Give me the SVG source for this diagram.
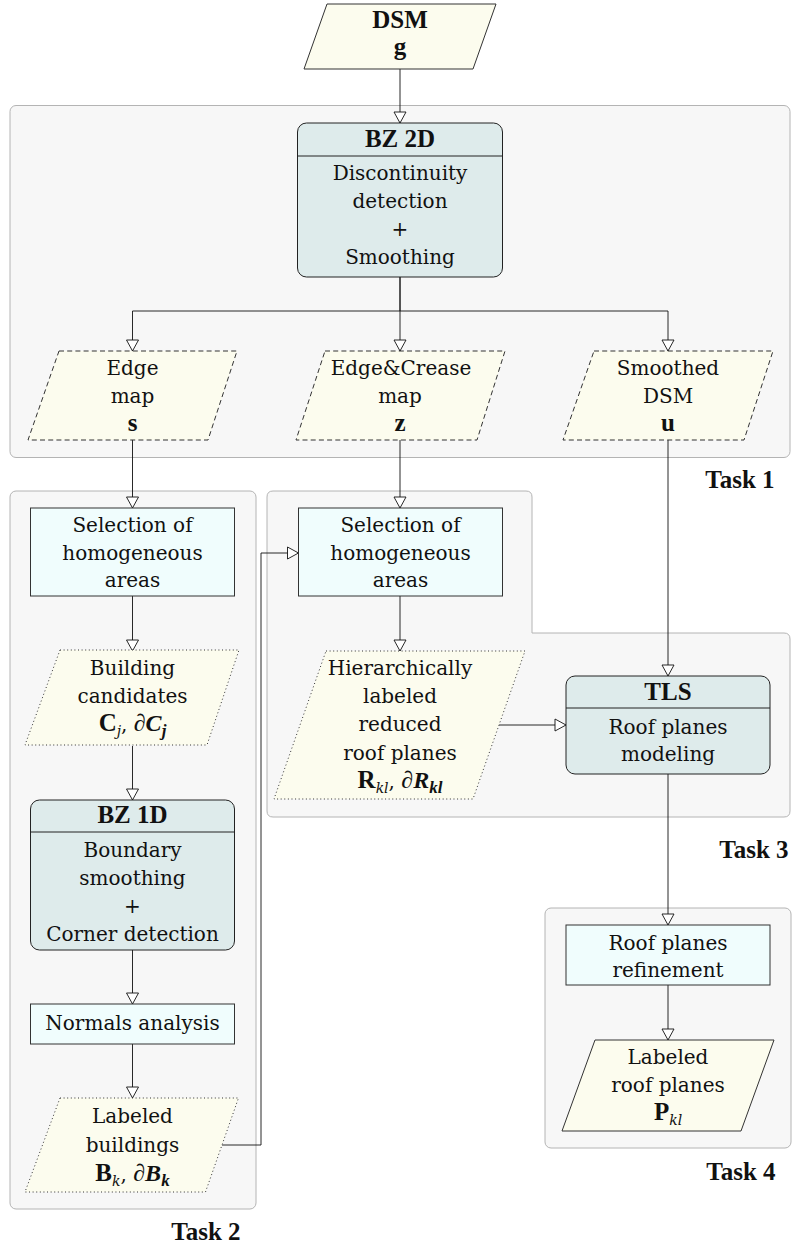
<svg xmlns="http://www.w3.org/2000/svg" width="794" height="1249" viewBox="0 0 794 1249">
<defs>
<style>
text{font-family:'DejaVu Serif',serif;font-weight:400;font-size:20px;fill:#111;text-anchor:middle}
.b{font-family:'Liberation Serif','DejaVu Serif',serif;font-weight:bold;font-size:25px}
.task{fill:#f7f7f7;stroke:#b4b4b4;stroke-width:1}
.data{fill:#fcfcee;stroke:#333;stroke-width:1}
.dash{stroke-dasharray:5 3.2}
.dot{stroke-dasharray:1 2.6}
.proc{fill:#f0fdfd;stroke:#333;stroke-width:1}
.bz{fill:#deebeb;stroke:#222;stroke-width:1}
.conn{fill:none;stroke:#111;stroke-width:0.9;marker-end:url(#arr)}
.sub{font-family:'DejaVu Serif',serif;font-style:italic;font-weight:400;font-size:14px}
.bi{font-family:'Liberation Serif','DejaVu Serif',serif;font-weight:bold;font-style:italic;font-size:24px}
.bisub{font-family:'Liberation Serif','DejaVu Serif',serif;font-weight:bold;font-style:italic;font-size:17px}
</style>
<marker id="arr" markerUnits="userSpaceOnUse" markerWidth="14" markerHeight="16" refX="11.5" refY="6.5" orient="auto" overflow="visible">
<path d="M0.5,0.5 L11.5,6.5 L0.5,12.5 Z" fill="#fff" stroke="#111" stroke-width="0.9"/>
</marker>
</defs>

<g id="task1"><rect class="task" x="10" y="105.5" width="780" height="352" rx="6"/><text class="b" x="740" y="488">Task 1</text></g>
<g id="task2"><rect class="task" x="10" y="491" width="246" height="718" rx="6"/><text class="b" x="206" y="1240">Task 2</text></g>
<g id="task3"><path class="task" d="M273,491 H526 Q532,491 532,497 V633 H784 Q790,633 790,639 V811 Q790,817 784,817 H273 Q267,817 267,811 V497 Q267,491 273,491 Z"/><text class="b" x="754" y="858">Task 3</text></g>
<g id="task4"><rect class="task" x="545" y="908" width="246" height="240" rx="6"/><text class="b" x="741" y="1180">Task 4</text></g>

<g id="connectors">
<path class="conn" d="M400,69 V123"/>
<path class="conn" d="M400,277 V311 H132.5 V351"/>
<path class="conn" d="M400,277 V351"/>
<path class="conn" d="M400,311 H668 V351"/>
<path class="conn" d="M132.5,440 V508"/>
<path class="conn" d="M400,440 V508"/>
<path class="conn" d="M668,440 V676"/>
<path class="conn" d="M132.5,596 V651"/>
<path class="conn" d="M132.5,746 V800"/>
<path class="conn" d="M132.5,950 V1004"/>
<path class="conn" d="M132.5,1044 V1098"/>
<path class="conn" d="M222,1145 H261 V553 H298.5"/>
<path class="conn" d="M400,596 V651"/>
<path class="conn" d="M499,725 H566"/>
<path class="conn" d="M668,774 V925"/>
<path class="conn" d="M668,985 V1040"/>
</g>

<g id="dsm"><polygon class="data" points="327,4 496,4 473,69 304,69"/><text class="b" x="400" y="28">DSM</text><text class="b" x="400" y="55">g</text></g>

<g id="bz2d"><rect class="bz" x="297.5" y="123" width="205" height="154" rx="9"/><line x1="297.5" y1="156" x2="502.5" y2="156" stroke="#222" stroke-width="1"/>
<text class="b" x="400" y="147">BZ 2D</text><text x="400" y="180">Discontinuity</text><text x="400" y="208">detection</text><text x="400" y="236">+</text><text x="400" y="264">Smoothing</text></g>

<g id="edgemap"><polygon class="data dash" points="59,351 237,351 208,440 28,440"/><text x="132.5" y="375">Edge</text><text x="132.5" y="403">map</text><text class="b" x="132.5" y="431">s</text></g>
<g id="edgecrease"><polygon class="data dash" points="325,351 505,351 477,440 296,440"/><text x="401" y="375">Edge&amp;Crease</text><text x="400" y="403">map</text><text class="b" x="400" y="431">z</text></g>
<g id="smoothed"><polygon class="data dash" points="594,351 773,351 744,440 563,440"/><text x="668" y="375">Smoothed</text><text x="668" y="403">DSM</text><text class="b" x="668" y="431">u</text></g>

<g id="sel1"><rect class="proc" x="30.5" y="508" width="204" height="88"/><text x="132.5" y="532">Selection of</text><text x="132.5" y="560">homogeneous</text><text x="132.5" y="587">areas</text></g>
<g id="sel2"><rect class="proc" x="298.5" y="508" width="204" height="88"/><text x="400.5" y="532">Selection of</text><text x="400.5" y="560">homogeneous</text><text x="400.5" y="587">areas</text></g>

<g id="candidates"><polygon class="data dot" points="60,650 239,650 207,745 25,745"/><text x="132.5" y="675">Building</text><text x="132.5" y="703">candidates</text>
<text x="132.5" y="731"><tspan class="b">C</tspan><tspan class="sub" dy="5">j</tspan><tspan dy="-5">, </tspan><tspan class="bi">∂C</tspan><tspan class="bisub" dy="5">j</tspan></text></g>

<g id="hier"><polygon class="data dot" points="326,651 525,651 473,799 274,799"/><text x="400" y="675">Hierarchically</text><text x="400" y="703">labeled</text><text x="400" y="731">reduced</text><text x="400" y="760">roof planes</text>
<text x="400" y="788"><tspan class="b">R</tspan><tspan class="sub" dy="5">kl</tspan><tspan dy="-5">, </tspan><tspan class="bi">∂R</tspan><tspan class="bisub" dy="5">kl</tspan></text></g>

<g id="tls"><rect class="bz" x="566" y="676" width="204" height="98" rx="9"/><line x1="566" y1="708" x2="770" y2="708" stroke="#222" stroke-width="1"/>
<text class="b" x="668" y="700">TLS</text><text x="668" y="734">Roof planes</text><text x="668" y="761">modeling</text></g>

<g id="bz1d"><rect class="bz" x="30.5" y="800" width="204" height="150" rx="9"/><line x1="30.5" y1="832" x2="234.5" y2="832" stroke="#222" stroke-width="1"/>
<text class="b" x="132.5" y="823">BZ 1D</text><text x="132.5" y="857">Boundary</text><text x="132.5" y="885">smoothing</text><text x="132.5" y="913">+</text><text x="132.5" y="941">Corner detection</text></g>

<g id="normals"><rect class="proc" x="30.5" y="1004" width="204" height="40"/><text x="132.5" y="1030">Normals analysis</text></g>

<g id="buildings"><polygon class="data dot" points="60,1098 238.5,1098 205.5,1192 25,1192"/><text x="132.5" y="1123">Labeled</text><text x="132.5" y="1152">buildings</text>
<text x="132.5" y="1181"><tspan class="b">B</tspan><tspan class="sub" dy="5">k</tspan><tspan dy="-5">, </tspan><tspan class="bi">∂B</tspan><tspan class="bisub" dy="5">k</tspan></text></g>

<g id="refine"><rect class="proc" x="566" y="925" width="204" height="60"/><text x="668" y="950">Roof planes</text><text x="668" y="977">refinement</text></g>

<g id="roofplanes"><polygon class="data" points="595,1040 774,1040 741,1131 562,1131"/><text x="668" y="1064">Labeled</text><text x="668" y="1092">roof planes</text>
<text x="668" y="1120"><tspan class="b">P</tspan><tspan class="sub" dy="5">kl</tspan></text></g>
</svg>
